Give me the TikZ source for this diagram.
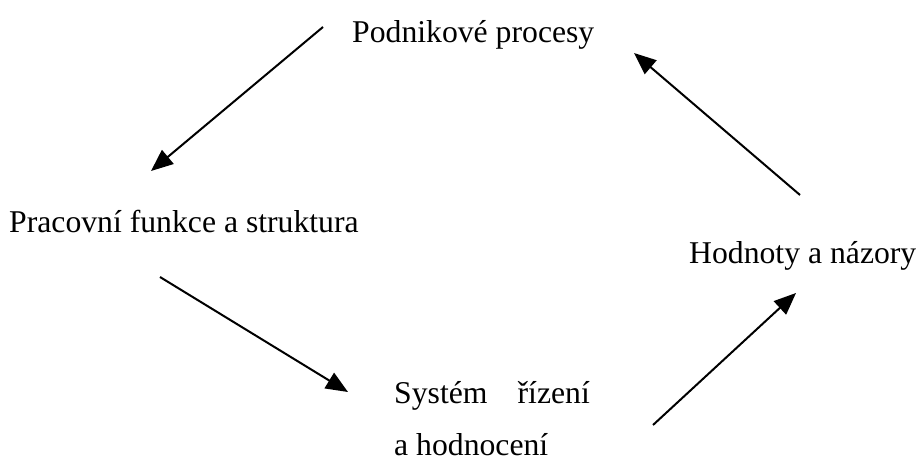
\documentclass[tikz,border=0pt]{standalone}
\usepackage{fontspec}
\setmainfont{Liberation Serif}
\usetikzlibrary{arrows.meta}
\begin{document}
\begin{tikzpicture}[x=1pt,y=-1pt,
  label/.style={anchor=base west, inner sep=0pt, font=\fontsize{31.7}{38}\selectfont},
  flow/.style={line width=2pt, -{Triangle[length=22pt,width=18pt]}}]
\useasboundingbox (0,0) rectangle (920,460);
\fill[white] (0,0) rectangle (920,460);

% labels of the cycle
\node[label] (proc) at (352,42) {Podnikové procesy};
\node[label] (func) at (9,232) {Pracovní funkce a struktura};
\node[label] (vals) at (689,263) {Hodnoty a názory};
\node[label] (sys1) at (394,403) {Systém\hspace{0.95em}řízení};
\node[label] (sys2) at (394,455) {a hodnocení};

% arrow end points
\coordinate (a1s) at (323,27);  \coordinate (a1e) at (151,171);
\coordinate (a3s) at (160,277); \coordinate (a3e) at (348,392);
\coordinate (a4s) at (653,425); \coordinate (a4e) at (796,293);
\coordinate (a2s) at (800,195); \coordinate (a2e) at (634,53);

\draw[flow] (a1s) -- (a1e);
\draw[flow] (a3s) -- (a3e);
\draw[flow] (a4s) -- (a4e);
\draw[flow] (a2s) -- (a2e);
\end{tikzpicture}
\end{document}
